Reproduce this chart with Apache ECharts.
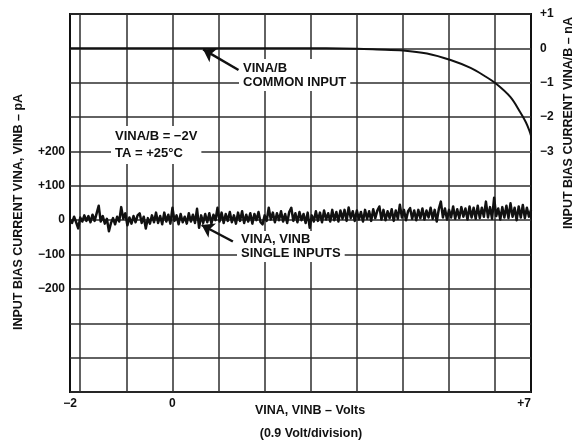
<!DOCTYPE html>
<html>
<head>
<meta charset="utf-8">
<script src="https://cdn.jsdelivr.net/npm/echarts@6.0.0/dist/echarts.min.js"></script>
<style>
  html, body { margin: 0; padding: 0; background: #fff; }
  #chart { width: 581px; height: 444px; }
</style>
</head>
<body>
<div id="chart"></div>
<script>
// Graticule: 0.9 V per division
const gridVolts = [-1.8, -0.9, 0, 0.9, 1.8, 2.7, 3.6, 4.5, 5.4, 6.3];
const voltLabels = [-2, 0, 7];
const paLabels = [-200, -100, 0, 100, 200];
const naLabels = [-3, -2, -1, 0, 1];

// VINA/B common input bias current, nA (right scale)
const commonInput = [
  [-2.0, 0], [3.0, 0], [3.6, -0.01], [4.0, -0.03], [4.5, -0.06], [4.97, -0.15],
  [5.43, -0.34], [5.82, -0.57], [6.08, -0.79], [6.32, -1.03], [6.6, -1.42],
  [6.79, -1.86], [6.9, -2.15], [6.97, -2.4], [7.0, -2.54]
];

// VINA, VINB single-input bias current, pA (left scale)
const singleInputs = [
  [-2.00,2],[-1.96,-8],[-1.92,10],[-1.88,-6],[-1.84,-24],[-1.80,8],[-1.76,-4],[-1.72,14],[-1.68,-2],[-1.64,12],
  [-1.60,-6],[-1.56,16],[-1.52,-2],[-1.48,20],[-1.44,42],[-1.40,-4],[-1.36,12],[-1.32,-10],[-1.28,4],[-1.24,-32],
  [-1.20,-8],[-1.16,6],[-1.12,-12],[-1.08,10],[-1.04,-4],[-1.00,38],[-0.96,4],[-0.92,20],[-0.88,-15],[-0.84,8],
  [-0.80,-10],[-0.76,12],[-0.72,-6],[-0.68,14],[-0.64,20],[-0.60,-8],[-0.56,10],[-0.52,-24],[-0.48,6],[-0.44,-10],
  [-0.40,14],[-0.36,-6],[-0.32,22],[-0.28,-8],[-0.24,12],[-0.20,-12],[-0.16,22],[-0.12,-4],[-0.08,16],[-0.04,-10],
  [0.00,36],[0.04,-2],[0.08,14],[0.12,-12],[0.16,18],[0.20,-6],[0.24,10],[0.28,-10],[0.32,20],[0.36,-4],
  [0.40,16],[0.44,-8],[0.48,33],[0.52,-22],[0.56,14],[0.60,-8],[0.64,18],[0.68,-6],[0.72,20],[0.76,-10],
  [0.80,16],[0.84,0],[0.88,36],[0.92,-4],[0.96,22],[1.00,-8],[1.04,18],[1.08,-2],[1.12,24],[1.16,-6],
  [1.20,14],[1.24,-10],[1.28,22],[1.32,-2],[1.36,26],[1.40,-8],[1.44,16],[1.48,-4],[1.52,20],[1.56,-10],
  [1.60,18],[1.64,0],[1.68,24],[1.72,-6],[1.76,-12],[1.80,14],[1.84,-2],[1.88,36],[1.92,2],[1.96,22],
  [2.00,-6],[2.04,20],[2.08,0],[2.12,26],[2.16,-4],[2.20,18],[2.24,-8],[2.28,24],[2.32,36],[2.36,-2],
  [2.40,20],[2.44,-6],[2.48,24],[2.52,0],[2.56,18],[2.60,-8],[2.64,22],[2.68,-22],[2.72,14],[2.76,-4],
  [2.80,26],[2.84,-2],[2.88,22],[2.92,-6],[2.96,28],[3.00,2],[3.04,20],[3.08,-4],[3.12,30],[3.16,0],
  [3.20,24],[3.24,-4],[3.28,28],[3.32,4],[3.36,30],[3.40,-2],[3.44,37],[3.48,6],[3.52,26],[3.56,-2],
  [3.60,28],[3.64,2],[3.68,24],[3.72,-4],[3.76,30],[3.80,4],[3.84,26],[3.88,-2],[3.92,32],[3.96,6],
  [4.00,28],[4.04,40],[4.08,2],[4.12,30],[4.16,0],[4.20,26],[4.24,6],[4.28,32],[4.32,-2],[4.36,28],
  [4.40,4],[4.44,45],[4.48,8],[4.52,30],[4.56,0],[4.60,26],[4.64,35],[4.68,4],[4.72,28],[4.76,0],
  [4.80,30],[4.84,6],[4.88,34],[4.92,2],[4.96,28],[5.00,8],[5.04,36],[5.08,4],[5.12,30],[5.16,-4],
  [5.20,32],[5.24,54],[5.28,8],[5.32,34],[5.36,2],[5.40,30],[5.44,8],[5.48,40],[5.52,4],[5.56,32],
  [5.60,6],[5.64,38],[5.68,10],[5.72,34],[5.76,2],[5.80,40],[5.84,8],[5.88,36],[5.92,4],[5.96,42],
  [6.00,6],[6.04,36],[6.08,10],[6.12,54],[6.16,8],[6.20,38],[6.24,4],[6.28,65],[6.32,12],[6.36,34],
  [6.40,2],[6.44,38],[6.48,8],[6.52,42],[6.56,6],[6.60,49],[6.64,10],[6.68,36],[6.72,0],[6.76,40],
  [6.80,8],[6.84,44],[6.88,6],[6.92,36],[6.96,10],[7.00,30]
];

// Leader arrows (tail, head) in each series' own units
const commonArrow = [[1.29, -0.63], [0.60, -0.03]];
const singleArrow = [[1.18, -62], [0.57, -14]];

const FONT = '"Liberation Sans", Arial, Helvetica, sans-serif';
const INK = '#111';
const GRID = '#2e2e2e';

function signed(v) {
  if (v > 0) return '+' + v;
  if (v < 0) return '\u2212' + Math.abs(v);
  return '0';
}

const tickText = { color: INK, fontFamily: FONT, fontWeight: 'bold', fontSize: 12 };

function arrowLine(pair) {
  return {
    silent: true,
    symbol: ['none', 'arrow'],
    symbolSize: 12,
    label: { show: false },
    lineStyle: { color: INK, width: 2.5, type: 'solid' },
    emphasis: { disabled: true },
    data: [[{ coord: pair[0] }, { coord: pair[1] }]]
  };
}

function note(text, x, y, lineHeight) {
  return {
    type: 'text', x: x, y: y, z: 1, silent: true,
    style: {
      text: text, fill: INK, fontFamily: FONT, fontWeight: 'bold', fontSize: 13,
      lineHeight: lineHeight, align: 'left', verticalAlign: 'top',
      backgroundColor: '#fff', padding: [2, 4, 2, 4]
    }
  };
}

function title(text, x, y, rot) {
  return {
    type: 'text', x: x, y: y, rotation: rot, silent: true,
    style: {
      text: text, fill: INK, fontFamily: FONT, fontWeight: 'bold', fontSize: 12.5,
      align: 'center', verticalAlign: 'middle'
    }
  };
}

const chart = echarts.init(document.getElementById('chart'), null, { renderer: 'canvas' });

chart.setOption({
  animation: false,
  backgroundColor: '#fff',
  grid: {
    left: 70, right: 50, top: 14, bottom: 52,
    show: true, borderColor: INK, borderWidth: 2, backgroundColor: 'transparent'
  },
  xAxis: {
    type: 'value', min: -2, max: 7,
    axisLine: { show: false },
    axisTick: { show: false, customValues: gridVolts },
    axisLabel: Object.assign({ customValues: voltLabels, margin: 6, formatter: signed, alignMaxLabel: 'right' }, tickText),
    splitLine: { show: true, lineStyle: { color: GRID, width: 1.5 } }
  },
  yAxis: [
    {
      type: 'value', min: -500, max: 600, interval: 100, position: 'left',
      axisLine: { show: false }, axisTick: { show: false },
      axisLabel: Object.assign({ customValues: paLabels, margin: 5, formatter: signed }, tickText),
      splitLine: { show: true, lineStyle: { color: GRID, width: 1.5 } }
    },
    {
      type: 'value', min: -10, max: 1, interval: 1, position: 'right',
      axisLine: { show: false }, axisTick: { show: false },
      axisLabel: Object.assign({ customValues: naLabels, margin: 9, formatter: signed }, tickText),
      splitLine: { show: false }
    }
  ],
  series: [
    {
      name: 'VINA/B COMMON INPUT',
      type: 'line', yAxisIndex: 1, data: commonInput,
      smooth: 0.35, showSymbol: false, silent: true,
      lineStyle: { color: INK, width: 2 },
      markLine: arrowLine(commonArrow)
    },
    {
      name: 'VINA, VINB SINGLE INPUTS',
      type: 'line', yAxisIndex: 0, data: singleInputs,
      showSymbol: false, silent: true,
      lineStyle: { color: INK, width: 2.5, join: 'round' },
      markLine: arrowLine(singleArrow)
    }
  ],
  graphic: [
    note('VINA/B\nCOMMON INPUT', 239, 59, 14),
    note('VINA/B = \u22122V\nTA = +25\u00B0C', 111, 126, 17),
    note('VINA, VINB\nSINGLE INPUTS', 237, 231, 13.5),
    title('INPUT BIAS CURRENT VINA, VINB \u2013 pA', 19, 212, Math.PI / 2),
    title('INPUT BIAS CURRENT VINA/B \u2013 nA', 569, 123, Math.PI / 2),
    title('VINA, VINB \u2013 Volts', 310, 411, 0),
    title('(0.9 Volt/division)', 311, 434, 0)
  ]
});
</script>
</body>
</html>
